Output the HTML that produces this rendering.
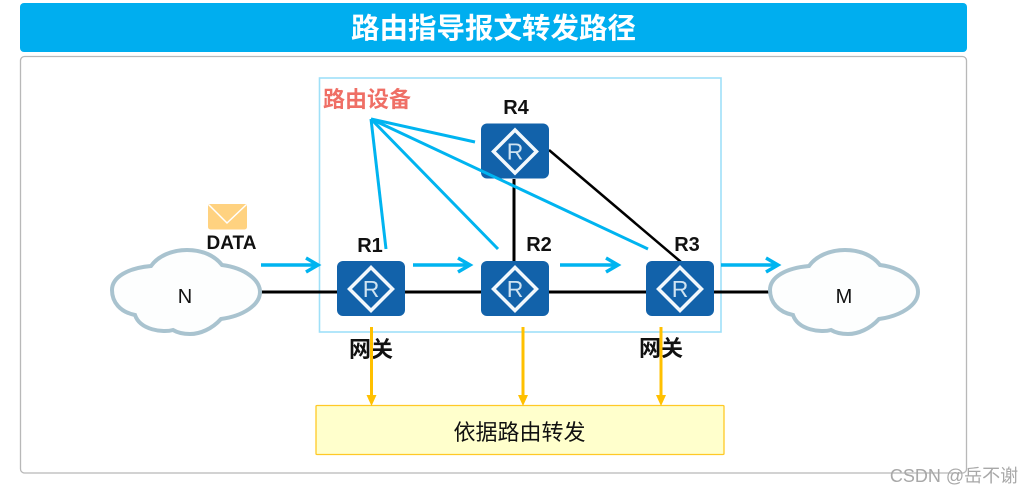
<!DOCTYPE html>
<html><head><meta charset="utf-8"><style>html,body{margin:0;padding:0;background:#fff}svg{display:block}
text{font-family:"Liberation Sans","Noto Sans CJK SC",sans-serif}</style></head>
<body>
<svg width="1024" height="494" viewBox="0 0 1024 494" xmlns="http://www.w3.org/2000/svg">
<defs>
<path id="cl" d="M135,315 C120,312 112,302 112,290 C112,277 128,268 151,266 C158,256 172,250 187,250 C203,250 215,256 222,265 C245,268 260,280 260,292 C260,305 243,316 221,319 C212,329 200,334 190,334 C183,334 178,333 173,330 C163,333 140,330 135,315 Z" fill="#fdfefe" stroke="#a9c3cf" stroke-width="4"/>
<g id="rt">
<rect x="0" y="0" width="68" height="55" rx="6" fill="#1262aa"/>
<path d="M34,6.500 L55.500,28 L34,49.500 L12.500,28 Z" fill="none" stroke="#f2f8fc" stroke-width="3.500"/>
<text x="34" y="36" text-anchor="middle" font-size="23" fill="#cfe3f1">R</text>
</g>
</defs>
<rect x="20" y="3" width="947" height="49" rx="4" fill="#00aeef"/>
<text x="493.500" y="38" text-anchor="middle" font-size="28.500" font-weight="700" fill="#fff">路由指导报文转发路径</text>
<rect x="20.500" y="56.500" width="946" height="416.500" rx="4" fill="#fff" stroke="#b8b8b8" stroke-width="1.300"/>
<rect x="319.500" y="78" width="401.500" height="254" fill="#fff" stroke="#9fe0f8" stroke-width="1.600"/>

<path d="M261,292 H770" stroke="#000" stroke-width="3" fill="none"/>
<path d="M514,179 V261" stroke="#000" stroke-width="3" fill="none"/>
<path d="M549,150 L681,262" stroke="#000" stroke-width="2.500" fill="none"/>

<use href="#cl"/>
<use href="#cl" x="658" y="0"/>

<use href="#rt" x="337" y="261"/>
<use href="#rt" x="481" y="123.500"/>
<use href="#rt" x="481" y="261"/>
<use href="#rt" x="646" y="261"/>

<g stroke="#00b4f0" stroke-width="3" fill="none">
<path d="M371,119 L386,249"/>
<path d="M371,119 L498,249"/>
<path d="M371,119 L648,249"/>
<path d="M371,119 L475,142"/>
</g>
<g stroke="#00b4f0" stroke-width="3.500" fill="none">
<path d="M261,265 H317 M306,258 L318,265 L306,272"/>
<path d="M413,265 H469 M458,258 L470,265 L458,272"/>
<path d="M560,265 H617 M606,258 L618,265 L606,272"/>
<path d="M721,265 H777 M766,258 L778,265 L766,272"/>
</g>

<text x="185" y="303" text-anchor="middle" font-size="20" fill="#111">N</text>
<text x="844" y="303" text-anchor="middle" font-size="20" fill="#111">M</text>
<text x="231.500" y="249" text-anchor="middle" font-size="19" font-weight="700" fill="#111">DATA</text>
<rect x="208" y="204" width="39" height="25.500" rx="2.500" fill="#ffd280"/>
<path d="M209,205 L227,223 L246,205" fill="none" stroke="#fff" stroke-width="1.500"/>

<text x="370" y="252" text-anchor="middle" font-size="20" font-weight="700" fill="#111">R1</text>
<text x="516" y="114" text-anchor="middle" font-size="20" font-weight="700" fill="#111">R4</text>
<text x="539" y="251" text-anchor="middle" font-size="20" font-weight="700" fill="#111">R2</text>
<text x="687" y="251" text-anchor="middle" font-size="20" font-weight="700" fill="#111">R3</text>
<text x="367" y="107" text-anchor="middle" font-size="22" font-weight="700" fill="#ef6f66">路由设备</text>
<text x="371" y="357" text-anchor="middle" font-size="22" font-weight="700" fill="#111">网关</text>
<text x="661" y="356" text-anchor="middle" font-size="22" font-weight="700" fill="#111">网关</text>

<rect x="316" y="405.500" width="408" height="49" rx="1" fill="#ffffcc" stroke="#ffc926" stroke-width="1.300"/>
<text x="519.500" y="440" text-anchor="middle" font-size="22" fill="#111">依据路由转发</text>

<g stroke="#ffc000" stroke-width="3" fill="#ffc000">
<path d="M371.500,327 V399"/>
<path d="M523,327 V399"/>
<path d="M661,327 V399"/>
</g>
<g fill="#ffc000">
<path d="M366.500,395 H376.500 L371.500,406 Z"/>
<path d="M518,395 H528 L523,406 Z"/>
<path d="M656,395 H666 L661,406 Z"/>
</g>

<text x="954" y="482" text-anchor="middle" font-size="18" fill="#a8a8a8">CSDN @岳不谢</text>
</svg>
</body></html>
